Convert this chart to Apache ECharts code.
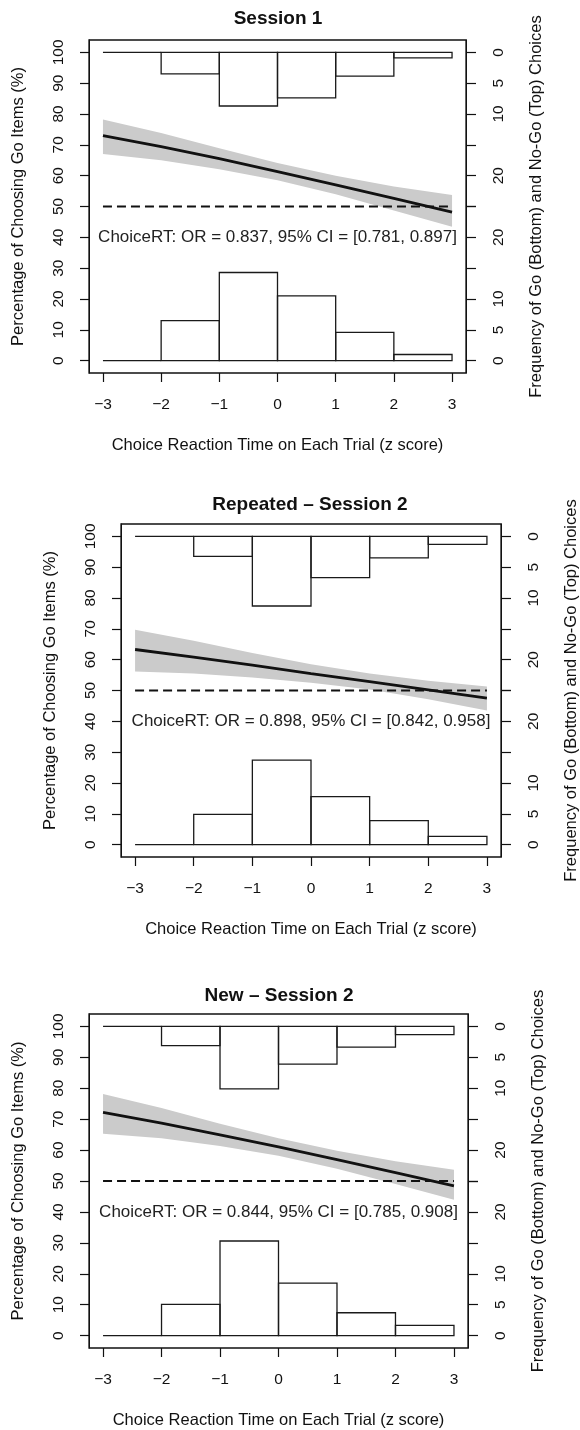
<!DOCTYPE html>
<html>
<head>
<meta charset="utf-8">
<script src="https://cdn.jsdelivr.net/npm/echarts@6/dist/echarts.min.js"></script>
<style>
  html, body { margin: 0; padding: 0; background: #fff; }
  #chart { width: 580px; height: 1430px; }
</style>
</head>
<body>
<div id="chart"></div>
<script>
// ---------------- data ----------------
const binEdges = [-3, -2, -1, 0, 1, 2, 3];
const fitX = [-3, -2, -1, 0, 1, 2, 3];
const xTicks = [-3, -2, -1, 0, 1, 2, 3];
const pctTicks = [0, 10, 20, 30, 40, 50, 60, 70, 80, 90, 100];
const freqTicks = [0, 5, 10, 15, 20, 25];
const freqLabels = [0, 5, 10, 20];
const chanceLevel = 50;

const titles = ['Session 1', 'Repeated \u2013 Session 2', 'New \u2013 Session 2'];
const orTexts = [
  'ChoiceRT: OR = 0.837, 95% CI = [0.781, 0.897]',
  'ChoiceRT: OR = 0.898, 95% CI = [0.842, 0.958]',
  'ChoiceRT: OR = 0.844, 95% CI = [0.785, 0.908]'
];

// Go (bottom) and No-Go (top) frequencies per RT bin
const s1Go   = [0, 6.5, 14.3, 10.5, 4.6, 1.0];
const s1NoGo = [0, 3.5, 8.7, 7.4, 3.85, 0.9];
const s2Go   = [0, 4.9, 13.7, 7.8, 3.9, 1.35];
const s2NoGo = [0, 3.25, 11.3, 6.7, 3.5, 1.3];
const s3Go   = [0, 5.05, 15.3, 8.5, 3.7, 1.65];
const s3NoGo = [0, 3.1, 10.1, 6.1, 3.35, 1.35];

// fitted percentage of choosing Go items, with 95% CI band
const s1Fit   = [73.0, 69.4, 65.5, 61.3, 57.0, 52.6, 48.2];
const s1Upper = [78.2, 73.8, 68.9, 64.1, 60.0, 56.5, 53.7];
const s1Lower = [67.0, 65.0, 62.1, 58.5, 54.0, 48.7, 43.4];
const s2Fit   = [63.3, 60.8, 58.2, 55.5, 52.9, 50.2, 47.5];
const s2Upper = [69.7, 66.1, 62.2, 58.5, 55.5, 53.2, 51.3];
const s2Lower = [56.2, 55.5, 54.2, 52.5, 50.3, 47.2, 43.5];
const s3Fit   = [72.2, 68.7, 64.9, 61.0, 56.9, 52.7, 48.4];
const s3Upper = [78.1, 73.6, 68.5, 63.8, 59.8, 56.4, 53.6];
const s3Lower = [65.3, 63.8, 61.3, 58.2, 54.0, 49.0, 43.9];

const xTitle = 'Choice Reaction Time on Each Trial (z score)';
const yTitle = 'Percentage of Choosing Go Items (%)';
const y2Title = 'Frequency of Go (Bottom) and No-Go (Top) Choices';

// ---------------- layout / style ----------------
const FONT = 'Liberation Sans, Arial, Helvetica, sans-serif';
const INK = '#111';
const layouts = [
  { left: 89,  top: 40,   width: 377, height: 333, tx: 278, ty: 19 },
  { left: 121, top: 524,  width: 380, height: 333, tx: 310, ty: 505 },
  { left: 89,  top: 1014, width: 379, height: 334, tx: 279, ty: 996 }
];
const panels = [
  { go: s1Go, nogo: s1NoGo, fit: s1Fit, up: s1Upper, lo: s1Lower },
  { go: s2Go, nogo: s2NoGo, fit: s2Fit, up: s2Upper, lo: s2Lower },
  { go: s3Go, nogo: s3NoGo, fit: s3Fit, up: s3Upper, lo: s3Lower }
];

const minusFmt = v => String(v).replace('-', '\u2212');

const grid = [], xAxis = [], yAxis = [], series = [], graphic = [];

panels.forEach((p, k) => {
  const L = layouts[k];
  grid.push({
    left: L.left, top: L.top, width: L.width, height: L.height,
    show: true, borderColor: INK, borderWidth: 1.3, backgroundColor: 'transparent',
    containLabel: false, outerBoundsMode: 'none'
  });
  xAxis.push({
    type: 'value', gridIndex: k, min: -3.24, max: 3.24, position: 'bottom',
    axisLine: { show: false, onZero: false },
    splitLine: { show: false },
    axisTick: { show: true, customValues: xTicks, length: 9, lineStyle: { color: INK, width: 1.2 } },
    axisLabel: { customValues: xTicks, formatter: minusFmt, margin: 24, color: INK, fontSize: 15.5, fontFamily: FONT },
    name: xTitle, nameLocation: 'middle', nameGap: 64,
    nameTextStyle: { color: INK, fontSize: 16.5, fontFamily: FONT }
  });
  const yi = yAxis.length;
  // left percentage axis
  yAxis.push({
    type: 'value', gridIndex: k, min: -4, max: 104, position: 'left',
    axisLine: { show: true, onZero: false, lineStyle: { color: INK, width: 1 } },
    splitLine: { show: false },
    axisTick: { show: true, customValues: pctTicks, length: 9, lineStyle: { color: INK, width: 1.2 } },
    axisLabel: { customValues: pctTicks, rotate: 90, margin: 22, color: INK, fontSize: 15.5, fontFamily: FONT },
    name: yTitle, nameLocation: 'middle', nameGap: 62, nameRotate: 90,
    nameTextStyle: { color: INK, fontSize: 16.5, fontFamily: FONT }
  });
  // right axis: Go frequency (bottom, upward)
  yAxis.push({
    type: 'value', gridIndex: k, min: -2, max: 52, position: 'right',
    axisLine: { show: true, onZero: false, lineStyle: { color: INK, width: 1 } },
    splitLine: { show: false },
    axisTick: { show: true, customValues: freqTicks, length: 10, lineStyle: { color: INK, width: 1.2 } },
    axisLabel: { customValues: freqLabels, rotate: 90, margin: 25, color: INK, fontSize: 15.5, fontFamily: FONT },
    name: y2Title, nameLocation: 'middle', nameGap: 62, nameRotate: 90,
    nameTextStyle: { color: INK, fontSize: 16.5, fontFamily: FONT }
  });
  // right axis: No-Go frequency (top, downward)
  yAxis.push({
    type: 'value', gridIndex: k, min: -2, max: 52, position: 'right', inverse: true,
    axisLine: { show: false, onZero: false },
    splitLine: { show: false },
    axisTick: { show: true, customValues: freqTicks, length: 10, lineStyle: { color: INK, width: 1.2 } },
    axisLabel: { customValues: freqLabels, rotate: 90, margin: 25, color: INK, fontSize: 15.5, fontFamily: FONT }
  });

  // CI band
  const bandData = fitX.map((x, i) => [x, p.lo[i], p.up[i]]);
  series.push({
    type: 'custom', xAxisIndex: k, yAxisIndex: yi, z: 1, silent: true,
    data: bandData, encode: { x: 0, y: [1, 2] },
    renderItem: (params, api) => {
      if (params.dataIndex !== 0) return null;
      const pts = [];
      for (let i = 0; i < fitX.length; i++) pts.push(api.coord([fitX[i], p.up[i]]));
      for (let i = fitX.length - 1; i >= 0; i--) pts.push(api.coord([fitX[i], p.lo[i]]));
      return { type: 'polygon', shape: { points: pts }, style: { fill: '#cbcbcb', stroke: null } };
    }
  });

  // histograms
  const histRender = (params, api) => {
    const a = api.coord([api.value(0), 0]);
    const b = api.coord([api.value(1), api.value(2)]);
    return {
      type: 'rect',
      shape: { x: Math.min(a[0], b[0]), y: Math.min(a[1], b[1]), width: Math.abs(b[0] - a[0]), height: Math.abs(b[1] - a[1]) },
      style: { fill: 'none', stroke: '#1a1a1a', lineWidth: 1.3 }
    };
  };
  const goData = p.go.map((f, i) => [binEdges[i], binEdges[i + 1], f]);
  const nogoData = p.nogo.map((f, i) => [binEdges[i], binEdges[i + 1], f]);
  series.push({ type: 'custom', xAxisIndex: k, yAxisIndex: yi + 1, z: 2, silent: true,
    data: goData, encode: { x: [0, 1], y: 2 }, renderItem: histRender });
  series.push({ type: 'custom', xAxisIndex: k, yAxisIndex: yi + 2, z: 2, silent: true,
    data: nogoData, encode: { x: [0, 1], y: 2 }, renderItem: histRender });

  // chance line
  series.push({
    type: 'line', xAxisIndex: k, yAxisIndex: yi, z: 3, symbol: 'none', silent: true,
    data: [[xTicks[0], chanceLevel], [xTicks[xTicks.length - 1], chanceLevel]],
    lineStyle: { color: INK, width: 2, type: [9, 5] }
  });
  // fitted line
  series.push({
    type: 'line', xAxisIndex: k, yAxisIndex: yi, z: 4, symbol: 'none', silent: true,
    data: fitX.map((x, i) => [x, p.fit[i]]),
    lineStyle: { color: INK, width: 2.8 }
  });
  // OR annotation
  series.push({
    type: 'custom', xAxisIndex: k, yAxisIndex: yi, z: 5, silent: true,
    data: [[0, 40]], encode: { x: 0, y: 1 },
    renderItem: (params, api) => {
      const c = api.coord([api.value(0), api.value(1)]);
      return { type: 'text', x: c[0], y: c[1],
        style: { text: orTexts[k], fill: '#222', fontSize: 17, fontFamily: FONT,
                 align: 'center', verticalAlign: 'middle', textAlign: 'center', textVerticalAlign: 'middle' } };
    }
  });

  graphic.push({
    type: 'text', x: L.tx, y: L.ty,
    style: { text: titles[k], fill: INK, fontSize: 19, fontWeight: 'bold', fontFamily: FONT,
             align: 'center', verticalAlign: 'middle', textAlign: 'center', textVerticalAlign: 'middle' }
  });
});

const chart = echarts.init(document.getElementById('chart'), null, { renderer: 'canvas' });
chart.setOption({
  animation: false,
  backgroundColor: '#fff',
  grid, xAxis, yAxis, series, graphic
});
</script>
</body>
</html>
